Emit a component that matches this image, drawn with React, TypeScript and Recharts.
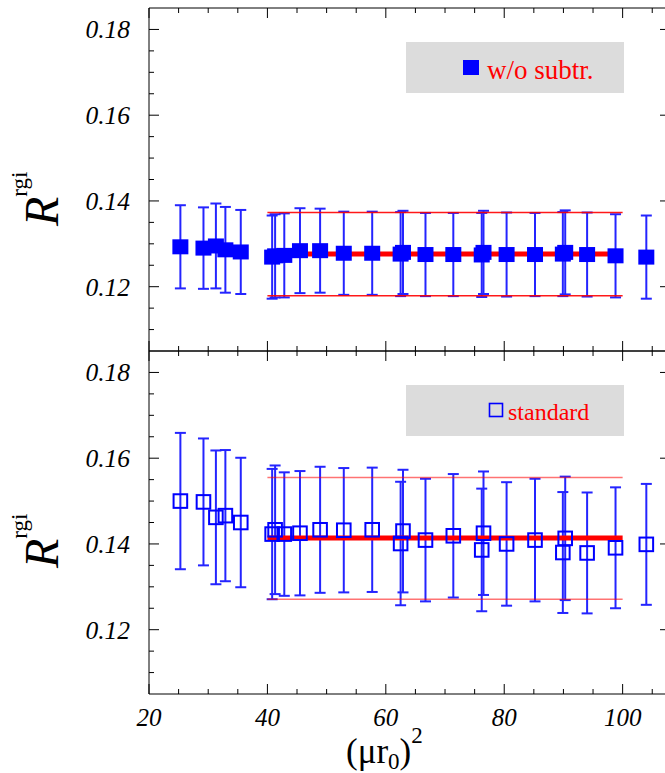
import React from 'react';
import { ComposedChart, Scatter, ErrorBar, XAxis, YAxis, ReferenceLine } from 'recharts';

// (mu r0)^2 positions, shared by both panels
const xValues = [25.3, 29.2, 31.3, 32.9, 35.5, 40.8, 41.3, 42.85, 45.5, 48.9, 52.9, 57.7, 62.5, 62.9, 66.7, 71.4, 76.2, 76.5, 80.4, 85.2, 89.9, 90.3, 94.0, 98.8, 104.0];

// top panel: w/o subtr.
const subtrValues = [0.1293, 0.129, 0.1295, 0.1286, 0.1281, 0.1269, 0.1272, 0.1273, 0.1284, 0.1284, 0.1278, 0.1278, 0.1276, 0.128, 0.1275, 0.1275, 0.1274, 0.128, 0.1275, 0.1275, 0.1276, 0.128, 0.1275, 0.1272, 0.1269];
const subtrErrors = [0.0097, 0.0095, 0.0099, 0.01, 0.0098, 0.0097, 0.0097, 0.0098, 0.0099, 0.0098, 0.0097, 0.0097, 0.0098, 0.0097, 0.0097, 0.0097, 0.0098, 0.0097, 0.0098, 0.0097, 0.0098, 0.0098, 0.0098, 0.0097, 0.0097];

// bottom panel: standard
const standardValues = [0.15, 0.1498, 0.1462, 0.1466, 0.145, 0.1423, 0.1433, 0.1423, 0.1425, 0.1433, 0.1432, 0.1433, 0.1401, 0.143, 0.1409, 0.1419, 0.1386, 0.1425, 0.14, 0.1409, 0.138, 0.1413, 0.1379, 0.1391, 0.1399];
const standardErrors = [0.0159, 0.0148, 0.0156, 0.0153, 0.0151, 0.0152, 0.015, 0.0144, 0.0145, 0.0147, 0.0145, 0.0145, 0.0144, 0.0143, 0.0143, 0.0144, 0.0143, 0.0144, 0.0144, 0.0143, 0.0141, 0.0144, 0.0141, 0.0141, 0.0141];

// fit band: [lower, central, upper] over fitRange
const fitRange = [40, 100];
const subtrFit = [0.1179, 0.1276, 0.1373];
const standardFit = [0.1271, 0.1414, 0.1555];

const xTicks = [20, 25, 30, 35, 40, 45, 50, 55, 60, 65, 70, 75, 80, 85, 90, 95, 100, 105];
const yTicks = [0.11, 0.115, 0.12, 0.125, 0.13, 0.135, 0.14, 0.145, 0.15, 0.155, 0.16, 0.165, 0.17, 0.175, 0.18];
const xDomain = [20, 108];
const yDomain = [0.105, 0.185];

const SERIF = '"Liberation Serif", "Times New Roman", serif';
const BLUE = '#0000ff';
const BAR_BLUE = '#2424ff';

const isMajorX = (v: number) => v % 20 === 0;
const isMajorY = (v: number) => Math.abs(v * 50 - Math.round(v * 50)) < 1e-6;

// ticks drawn inward from the frame
const xTick = (dir: number, labels: boolean) => (props: any) => {
  const { x, y, payload } = props;
  const major = isMajorX(payload.value);
  return (
    <g>
      <line x1={x} x2={x} y1={y} y2={y + dir * (major ? 10 : 5)} stroke="#000" strokeWidth={1} />
      {labels && major && (
        <text x={x} y={y + 32} textAnchor="middle" fontFamily={SERIF} fontStyle="italic" fontSize={25} fill="#000">
          {payload.value}
        </text>
      )}
    </g>
  );
};

const yTick = (dir: number, labels: boolean) => (props: any) => {
  const { x, y, payload } = props;
  const major = isMajorY(payload.value);
  return (
    <g>
      <line x1={x} x2={x + dir * (major ? 10 : 5)} y1={y} y2={y} stroke="#000" strokeWidth={1} />
      {labels && major && (
        <text x={x - 19} y={y + 9} textAnchor="end" fontFamily={SERIF} fontStyle="italic" fontSize={25.5} fill="#000">
          {payload.value.toFixed(2)}
        </text>
      )}
    </g>
  );
};

const filledSquare = (p: any) => <rect x={p.cx - 8} y={p.cy - 7.5} width={16} height={15} fill={BLUE} />;
const openSquare = (p: any) => (
  <rect x={p.cx - 6.8} y={p.cy - 6.8} width={13.6} height={13.6} fill="none" stroke={BLUE} strokeWidth={2} />
);

interface PanelProps {
  values: number[];
  errors: number[];
  fit: number[];
  filled: boolean;
  top: number;
  height: number;
  marginBottom: number;
  labelsX: boolean;
  thinColor: string;
}

const axisCommon = {
  mirror: true,
  tickSize: 0,
  tickMargin: 0,
  tickLine: false,
  interval: 0 as const,
  allowDataOverflow: true,
  axisLine: { stroke: '#000', strokeWidth: 1 },
};

const Panel: React.FC<PanelProps> = ({ values, errors, fit, filled, top, height, marginBottom, labelsX, thinColor }) => {
  const data = xValues.map((x, i) => ({ x, y: values[i], err: errors[i] }));
  const seg = (v: number) => [{ x: fitRange[0], y: v }, { x: fitRange[1], y: v }];
  return (
    <div style={{ position: 'absolute', left: 0, top }}>
      <ComposedChart width={680} height={height} data={data} margin={{ top: 8, right: 10, bottom: marginBottom, left: 149 }}>
        <XAxis xAxisId="b" type="number" dataKey="x" domain={xDomain} ticks={xTicks} height={20} {...axisCommon} tick={xTick(-1, labelsX)} />
        <XAxis xAxisId="t" orientation="top" type="number" dataKey="x" domain={xDomain} ticks={xTicks} height={20} {...axisCommon} tick={xTick(1, false)} />
        <YAxis yAxisId="l" type="number" dataKey="y" domain={yDomain} ticks={yTicks} width={20} {...axisCommon} tick={yTick(1, true)} />
        <YAxis yAxisId="r" orientation="right" type="number" dataKey="y" domain={yDomain} ticks={yTicks} width={20} {...axisCommon} tick={yTick(-1, false)} />
        <Scatter xAxisId="b" yAxisId="l" dataKey="y" isAnimationActive={false} shape={filled ? filledSquare : openSquare}>
          <ErrorBar dataKey="err" direction="y" width={5.5} stroke={BAR_BLUE} strokeWidth={2} isAnimationActive={false} />
        </Scatter>
        <ReferenceLine xAxisId="b" yAxisId="l" segment={seg(fit[0])} stroke={thinColor} strokeWidth={1.6} />
        <ReferenceLine xAxisId="b" yAxisId="l" segment={seg(fit[2])} stroke={thinColor} strokeWidth={1.6} />
        <ReferenceLine xAxisId="b" yAxisId="l" segment={seg(fit[1])} stroke="#ff0000" strokeWidth={5} />
      </ComposedChart>
    </div>
  );
};

const YTitle: React.FC<{ x: number; y: number }> = ({ x, y }) => (
  <text transform={`translate(${x},${y}) rotate(-90)`} fontFamily={SERIF} fill="#000">
    <tspan fontStyle="italic" fontSize={48}>R</tspan>
    <tspan fontSize={23} dy={-31}>rgi</tspan>
  </text>
);

export default function App() {
  return (
    <div style={{ position: 'absolute', left: 0, top: 0, width: 665, height: 773, overflow: 'hidden', background: '#fff' }}>
      <Panel values={subtrValues} errors={subtrErrors} fit={subtrFit} filled top={0} height={352} marginBottom={1}
        labelsX={false} thinColor="rgba(255,0,0,0.9)" />
      <Panel values={standardValues} errors={standardErrors} fit={standardFit} filled={false} top={343} height={430}
        marginBottom={79} labelsX thinColor="rgba(255,0,0,0.55)" />
      <svg width={665} height={773} style={{ position: 'absolute', left: 0, top: 0, pointerEvents: 'none' }}>
        {/* legends */}
        <rect x={406} y={42} width={218} height={51} fill="#dcdcdc" />
        <rect x={463} y={60} width={16} height={15} fill={BLUE} />
        <text x={487} y={79} fontFamily={SERIF} fontSize={27} fill="#ff0000">w/o subtr.</text>
        <rect x={406} y={385} width={218} height={51} fill="#dcdcdc" />
        <rect x={489.5} y={403.5} width={13} height={13} fill="none" stroke={BLUE} strokeWidth={1.6} />
        <text x={508} y={420} fontFamily={SERIF} fontSize={24} fill="#ff0000">standard</text>
        {/* axis titles */}
        <YTitle x={58} y={226} />
        <YTitle x={58} y={568} />
        <text x={346} y={763} fontFamily={SERIF} fontSize={35} fill="#000">
          (μr<tspan fontSize={23} dy={6}>0</tspan>
          <tspan fontSize={35} dy={-6}>)</tspan>
          <tspan fontSize={23} dy={-20}>2</tspan>
        </text>
      </svg>
    </div>
  );
}
